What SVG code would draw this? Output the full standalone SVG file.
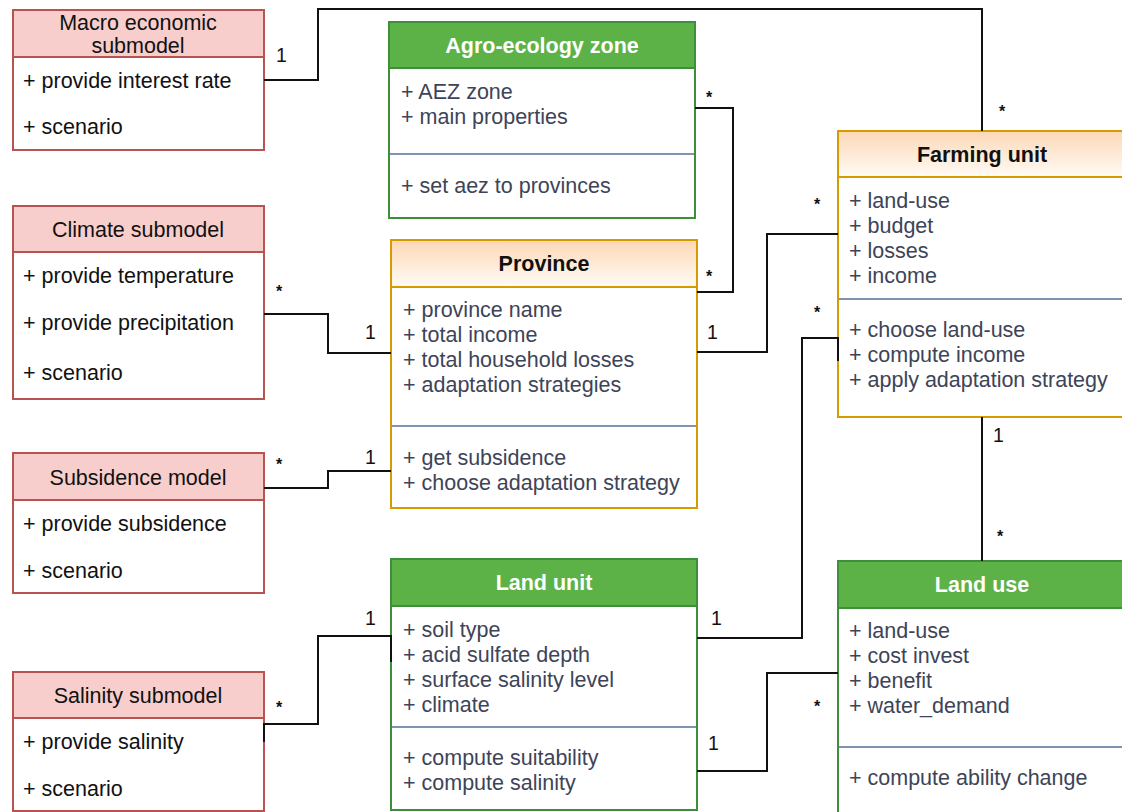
<svg xmlns="http://www.w3.org/2000/svg" width="1122" height="812" viewBox="0 0 1122 812">
<defs>
<linearGradient id="og" x1="0" y1="0" x2="0" y2="1">
<stop offset="0" stop-color="#fcd8b5"/>
<stop offset="1" stop-color="#fffbf6"/>
</linearGradient>
<style>
text{font-family:"Liberation Sans",Arial,sans-serif;font-size:21.5px}
.pb{fill:#ffffff;stroke:#b85450;stroke-width:2}
.ph{fill:#f8cecc;stroke:#b85450;stroke-width:2}
.gb{fill:#ffffff;stroke:#3e8f3a;stroke-width:2}
.gh{fill:#5db247;stroke:#3e8f3a;stroke-width:2}
.ob{fill:#ffffff;stroke:#d79b00;stroke-width:2}
.oh{fill:url(#og);stroke:#d79b00;stroke-width:2}
.dv{stroke:#7f93b3;stroke-width:2}
.t{fill:#111111}
.it{fill:#3d4457}
.tc{text-anchor:middle}
.bw{font-weight:bold;fill:#ffffff;text-anchor:middle}
.bk{font-weight:bold;fill:#111111;text-anchor:middle}
.c{fill:none;stroke:#111111;stroke-width:2}
.lb{fill:#111111;font-size:19.5px}
.st{fill:#111111;font-size:16px;font-weight:bold}
</style>
</defs>
<rect width="1122" height="812" fill="#ffffff"/>

<g id="macro">
<rect class="pb" x="13" y="10" width="251" height="140"/>
<rect class="ph" x="13" y="10" width="251" height="47"/>
<text class="t tc" x="138" y="30">Macro economic</text>
<text class="t tc" x="138" y="53">submodel</text>
<text class="t" x="23" y="88">+ provide interest rate</text>
<text class="t" x="23" y="134">+ scenario</text>
</g>

<g id="climate">
<rect class="pb" x="13" y="206" width="251" height="193"/>
<rect class="ph" x="13" y="206" width="251" height="46"/>
<text class="t tc" x="138" y="237">Climate submodel</text>
<text class="t" x="23" y="283">+ provide temperature</text>
<text class="t" x="23" y="330">+ provide precipitation</text>
<text class="t" x="23" y="380">+ scenario</text>
</g>

<g id="subsidence">
<rect class="pb" x="13" y="453" width="251" height="140"/>
<rect class="ph" x="13" y="453" width="251" height="47"/>
<text class="t tc" x="138" y="485">Subsidence model</text>
<text class="t" x="23" y="531">+ provide subsidence</text>
<text class="t" x="23" y="578">+ scenario</text>
</g>

<g id="salinity">
<rect class="pb" x="13" y="672" width="251" height="139"/>
<rect class="ph" x="13" y="672" width="251" height="46"/>
<text class="t tc" x="138" y="703">Salinity submodel</text>
<text class="t" x="23" y="749">+ provide salinity</text>
<text class="t" x="23" y="796">+ scenario</text>
</g>

<g id="agro">
<rect class="gb" x="389" y="22" width="306" height="196"/>
<rect class="gh" x="389" y="22" width="306" height="46"/>
<text class="bw" x="542" y="53">Agro-ecology zone</text>
<text class="it" x="401" y="99">+ AEZ zone</text>
<text class="it" x="401" y="124">+ main properties</text>
<line class="dv" x1="390" y1="154" x2="694" y2="154"/>
<text class="it" x="401" y="193">+ set aez to provinces</text>
</g>

<g id="province">
<rect class="ob" x="391" y="240" width="306" height="268"/>
<rect class="oh" x="391" y="240" width="306" height="47"/>
<text class="bk" x="544" y="271">Province</text>
<text class="it" x="403" y="317">+ province name</text>
<text class="it" x="403" y="342">+ total income</text>
<text class="it" x="403" y="367">+ total household losses</text>
<text class="it" x="403" y="392">+ adaptation strategies</text>
<line class="dv" x1="392" y1="426" x2="696" y2="426"/>
<text class="it" x="403" y="465">+ get subsidence</text>
<text class="it" x="403" y="490">+ choose adaptation strategy</text>
</g>

<g id="farming">
<rect class="ob" x="838" y="131" width="290" height="286"/>
<rect class="oh" x="838" y="131" width="290" height="46"/>
<text class="bk" x="982" y="162">Farming unit</text>
<text class="it" x="849" y="208">+ land-use</text>
<text class="it" x="849" y="233">+ budget</text>
<text class="it" x="849" y="258">+ losses</text>
<text class="it" x="849" y="283">+ income</text>
<line class="dv" x1="839" y1="299" x2="1122" y2="299"/>
<text class="it" x="849" y="337">+ choose land-use</text>
<text class="it" x="849" y="362">+ compute income</text>
<text class="it" x="849" y="387">+ apply adaptation strategy</text>
</g>

<g id="landunit">
<rect class="gb" x="391" y="559" width="306" height="251"/>
<rect class="gh" x="391" y="559" width="306" height="47"/>
<text class="bw" x="544" y="590">Land unit</text>
<text class="it" x="403" y="637">+ soil type</text>
<text class="it" x="403" y="662">+ acid sulfate depth</text>
<text class="it" x="403" y="687">+ surface salinity level</text>
<text class="it" x="403" y="712">+ climate</text>
<line class="dv" x1="392" y1="727" x2="696" y2="727"/>
<text class="it" x="403" y="765">+ compute suitability</text>
<text class="it" x="403" y="790">+ compute salinity</text>
</g>

<g id="landuse">
<rect class="gb" x="838" y="561" width="290" height="256"/>
<rect class="gh" x="838" y="561" width="290" height="47"/>
<text class="bw" x="982" y="592">Land use</text>
<text class="it" x="849" y="638">+ land-use</text>
<text class="it" x="849" y="663">+ cost invest</text>
<text class="it" x="849" y="688">+ benefit</text>
<text class="it" x="849" y="713">+ water_demand</text>
<line class="dv" x1="839" y1="747" x2="1122" y2="747"/>
<text class="it" x="849" y="785">+ compute ability change</text>
</g>

<g id="connectors">
<path class="c" d="M264,80 H318 V9 H982 V131"/>
<path class="c" d="M695,108 H733 V292 H697"/>
<path class="c" d="M697,352 H767 V234 H838"/>
<path class="c" d="M838,361 V338 H802 V638 H697"/>
<path class="c" d="M697,771 H767 V673 H838"/>
<path class="c" d="M982,417 V561"/>
<path class="c" d="M264,314 H328 V353 H391"/>
<path class="c" d="M264,488 H328 V471 H391"/>
<path class="c" d="M264,742 V724 H318 V636 H391 V662"/>
<text class="lb" x="276" y="62">1</text>
<text class="st" x="999" y="117">*</text>
<text class="st" x="706" y="103">*</text>
<text class="st" x="706" y="282">*</text>
<text class="lb" x="707" y="339">1</text>
<text class="st" x="814" y="210">*</text>
<text class="st" x="814" y="318">*</text>
<text class="lb" x="993" y="442">1</text>
<text class="st" x="997" y="542">*</text>
<text class="lb" x="711" y="625">1</text>
<text class="st" x="814" y="712">*</text>
<text class="lb" x="708" y="750">1</text>
<text class="st" x="276" y="297">*</text>
<text class="lb" x="365" y="339">1</text>
<text class="st" x="276" y="470">*</text>
<text class="lb" x="365" y="464">1</text>
<text class="st" x="276" y="713">*</text>
<text class="lb" x="365" y="625">1</text>
</g>
</svg>
